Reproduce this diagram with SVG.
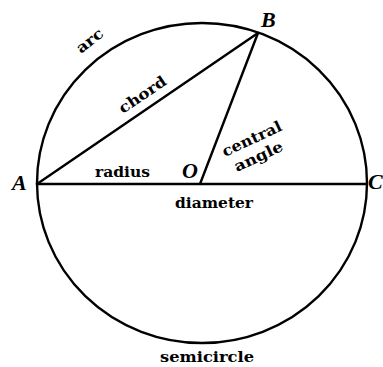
<svg xmlns="http://www.w3.org/2000/svg" width="383" height="367" viewBox="0 0 383 367">
<style>
.ln{fill:none;stroke:#000;stroke-width:2.4;stroke-linecap:round}
.lbl{font-family:"DejaVu Serif","Liberation Serif",serif;font-weight:bold;font-size:15px;fill:#000}
.pt{font-family:"Liberation Serif",serif;font-weight:bold;font-style:italic;font-size:22px;fill:#000}
</style>
<rect width="383" height="367" fill="#fff"/>
<g id="circle">
<ellipse class="ln" cx="202" cy="183" rx="165" ry="160"/>
</g>
<g id="connectors">
<line class="ln" x1="37" y1="184" x2="367" y2="184"/>
<line class="ln" x1="37" y1="184" x2="258" y2="33"/>
<line class="ln" x1="200" y1="184" x2="258" y2="33"/>
</g>
<g id="points">
<text class="pt" x="12" y="190">A</text>
<text class="pt" x="261" y="27">B</text>
<text class="pt" x="182" y="178">O</text>
<text class="pt" x="368" y="189" font-size="21">C</text>
</g>
<g id="labels">
<text class="lbl" transform="translate(81,54) rotate(-38)" textLength="30" lengthAdjust="spacingAndGlyphs">arc</text>
<text class="lbl" transform="translate(123,114) rotate(-34)" textLength="54" lengthAdjust="spacingAndGlyphs">chord</text>
<text class="lbl" x="95" y="177" textLength="55" lengthAdjust="spacingAndGlyphs">radius</text>
<text class="lbl" transform="translate(225,157) rotate(-25)" textLength="64" lengthAdjust="spacingAndGlyphs">central</text>
<text class="lbl" transform="translate(237,172) rotate(-25)" textLength="52" lengthAdjust="spacingAndGlyphs">angle</text>
<text class="lbl" x="175" y="208" textLength="78" lengthAdjust="spacingAndGlyphs">diameter</text>
<text class="lbl" x="160" y="362" textLength="94" lengthAdjust="spacingAndGlyphs">semicircle</text>
</g>
</svg>
